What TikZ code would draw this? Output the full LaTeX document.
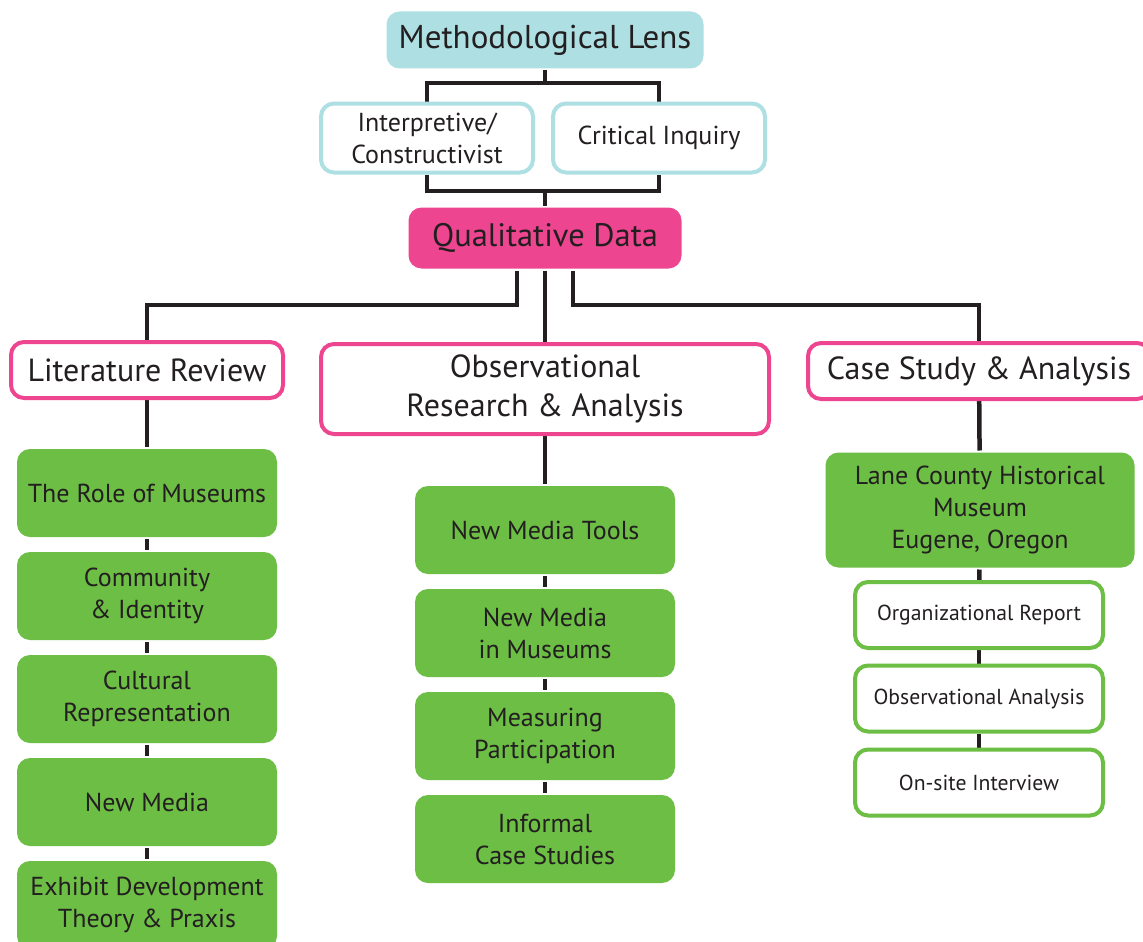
\documentclass[tikz,border=0pt]{standalone}
\usepackage{fontspec}
\setmainfont{PT Sans}
\usetikzlibrary{positioning}

\definecolor{lenscyan}{HTML}{ADDFE3}
\definecolor{datapink}{HTML}{EE4591}
\definecolor{topicgreen}{HTML}{6DBE45}
\definecolor{inkgray}{HTML}{231F20}

\pgfdeclarelayer{background}
\pgfsetlayers{background,main}

\begin{document}
\begin{tikzpicture}[x=1pt,y=-1pt,node distance=103pt,
    every node/.style={text=inkgray,align=center,rounded corners=13pt,line width=4pt},
    lens node/.style={fill=lenscyan,minimum width=317pt,minimum height=57pt,font=\fontsize{33}{36}\selectfont},
    view node/.style={draw=lenscyan,fill=white,minimum width=212pt,minimum height=69pt,font=\fontsize{26}{32}\selectfont},
    data node/.style={fill=datapink,minimum width=273pt,minimum height=61pt,font=\fontsize{32.5}{36}\selectfont},
    method node/.style={draw=datapink,fill=white,minimum height=56pt,font=\fontsize{32}{39}\selectfont},
    topic node/.style={fill=topicgreen,minimum width=260pt,minimum height=88pt,font=\fontsize{26}{32}\selectfont},
    task node/.style={draw=topicgreen,fill=white,minimum width=248pt,minimum height=66pt,font=\fontsize{21.7}{24}\selectfont},
    link/.style={line width=4.5pt,draw=inkgray}]

  \useasboundingbox (0,0) rectangle (1143,942);

  \node[lens node] (lens) at (545,40) {Methodological Lens};
  \node[view node] (interp) at (427,138) {Interpretive/\\Constructivist};
  \node[view node] (crit) at (659,138) {Critical Inquiry};
  \node[data node] (qual) at (545,238) {Qualitative Data};

  \node[method node,minimum width=272pt] (lit) at (147,370) {Literature Review};
  \node[method node,minimum width=448pt,minimum height=90pt] (obs) at (545,389) {Observational\\Research \& Analysis};
  \node[method node,minimum width=342pt] (case) at (979,371) {Case Study \& Analysis};

  \node[topic node] (role) at (147,493) {The Role of Museums};
  \node[topic node] (comm) [below of=role] {Community\\\& Identity};
  \node[topic node] (cult) [below of=comm] {Cultural\\Representation};
  \node[topic node] (media) [below of=cult] {New Media};
  \node[topic node] (exhibit) [below of=media] {Exhibit Development\\Theory \& Praxis};

  \node[topic node] (tools) at (545,530) {New Media Tools};
  \node[topic node] (inmus) [below of=tools] {New Media\\in Museums};
  \node[topic node] (measure) [below of=inmus] {Measuring\\Participation};
  \node[topic node] (informal) [below of=measure] {Informal\\Case Studies};

  \node[topic node,minimum width=309pt,minimum height=115pt] (lane) at (980,510) {Lane County Historical\\Museum\\Eugene, Oregon};
  \node[task node] (report) at (979,615) {Organizational Report};
  \node[task node,node distance=83.5pt] (obsan) [below of=report] {Observational Analysis};
  \node[task node,node distance=84pt] (onsite) [below of=obsan] {On-site Interview};

  \coordinate (upper) at (545,83);
  \coordinate (lower) at (545,191);
  \coordinate (left fork) at (517,305);
  \coordinate (right fork) at (573,305);

  \begin{pgfonlayer}{background}
    \fill[white] (0,0) rectangle (1143,942);
    % lens and its two views
    \draw[link] (lens) -- (upper);
    \draw[link] (interp) |- (upper) -| (crit);
    \draw[link] (interp) |- (lower) -| (crit);
    \draw[link] (lower) -- (qual);
    % the three branches
    \draw[link] (qual.south -| left fork) -- (left fork) -| (lit);
    \draw[link] (qual) -- (obs);
    \draw[link] (qual.south -| right fork) -- (right fork) -| (case);
    \path[link]
      (lit) edge (role) (role) edge (comm) (comm) edge (cult)
      (cult) edge (media) (media) edge (exhibit)
      (obs) edge (tools) (tools) edge (inmus) (inmus) edge (measure)
      (measure) edge (informal)
      (case) edge (lane) (lane) edge (report) (report) edge (obsan)
      (obsan) edge (onsite);
  \end{pgfonlayer}
\end{tikzpicture}
\end{document}
